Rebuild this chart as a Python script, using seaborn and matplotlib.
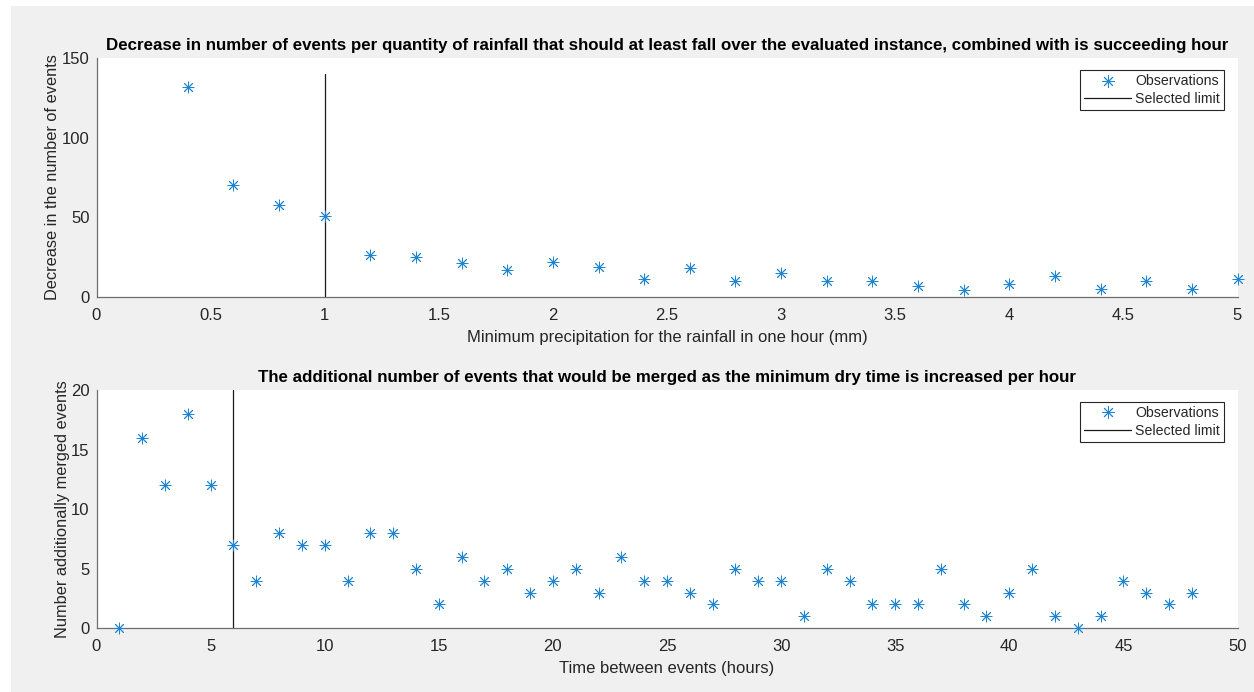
import numpy as np
import pandas as pd
import seaborn as sns
import matplotlib
matplotlib.use("Agg")
import matplotlib.pyplot as plt
from matplotlib.lines import Line2D
from matplotlib.patches import Rectangle
from matplotlib.ticker import FuncFormatter, MultipleLocator

# ---------------- data ----------------
rain_threshold = [0.4, 0.6, 0.8, 1.0, 1.2, 1.4, 1.6, 1.8, 2.0, 2.2, 2.4, 2.6, 2.8,
                  3.0, 3.2, 3.4, 3.6, 3.8, 4.0, 4.2, 4.4, 4.6, 4.8, 5.0]
rain_decrease = [132, 70, 58, 51, 26, 25, 21, 17, 22, 19, 11, 18, 10,
                 15, 10, 10, 7, 4, 8, 13, 5, 10, 5, 11]
rain_limit = 1.0
rain_limit_top = 140

dry_hours = list(range(1, 49))
dry_merged = [0, 16, 12, 18, 12, 7, 4, 8, 7, 7, 4, 8, 8, 5, 2, 6, 4, 5, 3, 4,
              5, 3, 6, 4, 4, 3, 2, 5, 4, 4, 1, 5, 4, 2, 2, 2, 5, 2, 1, 3,
              5, 1, 0, 1, 4, 3, 2, 3]
dry_limit = 6
dry_limit_top = 20

titles = [
    "Decrease in number of events per quantity of rainfall that should at least fall over the evaluated instance, combined with is succeeding hour",
    "The additional number of events that would be merged as the minimum dry time is increased per hour",
]
xlabels = ["Minimum precipitation for the rainfall in one hour (mm)", "Time between events (hours)"]
ylabels = ["Decrease in the number of events", "Number additionally merged events"]
legend_labels = ["Observations", "Selected limit"]

# ---------------- style ----------------
sns.set_theme(style="white")
plt.rcParams['font.family'] = ['Liberation Sans', 'DejaVu Sans']

W, H = 1254, 692
fig = plt.figure(figsize=(W / 100, H / 100), dpi=100, facecolor="white")
fig.patches.append(Rectangle((11 / W, 0), 1 - 11 / W, 1 - 6 / H, transform=fig.transFigure,
                             facecolor="#f0f0f0", edgecolor="none", zorder=-10))

left = 96.5 / W
width = (1237.5 - 96.5) / W
ax1 = fig.add_axes([left, 1 - 296.7 / H, width, (296.7 - 58.3) / H])
ax2 = fig.add_axes([left, 1 - 628.3 / H, width, (628.3 - 390.0) / H])

blue = "#1f85cc"
axcol = "#262626"
ast = (8, 2, 0)

df1 = pd.DataFrame({"x": rain_threshold, "y": rain_decrease})
df2 = pd.DataFrame({"x": dry_hours, "y": dry_merged})

configs = [
    (ax1, df1, rain_limit, rain_limit_top, (0, 5), (0, 150), 0.5, 50),
    (ax2, df2, dry_limit, dry_limit_top, (0, 50), (0, 20), 5, 5),
]

for i, (ax, df, lim, limtop, xl, yl, xstep, ystep) in enumerate(configs):
    ax.set_facecolor("white")
    sns.scatterplot(data=df, x="x", y="y", ax=ax, marker=ast, color=blue,
                    s=62, linewidth=0.65, clip_on=False, zorder=3, legend=False)
    ax.plot([lim, lim], [0, limtop], color="#1a1a1a", linewidth=0.9, zorder=2)
    ax.set_xlim(*xl)
    ax.set_ylim(*yl)
    ax.xaxis.set_major_locator(MultipleLocator(xstep))
    ax.yaxis.set_major_locator(MultipleLocator(ystep))
    ax.xaxis.set_major_formatter(FuncFormatter(lambda v, p: f"{v:g}"))
    ax.yaxis.set_major_formatter(FuncFormatter(lambda v, p: f"{v:g}"))
    for side in ["top", "right"]:
        ax.spines[side].set_visible(False)
    for side in ["left", "bottom"]:
        ax.spines[side].set_color("#6e6e6e")
        ax.spines[side].set_linewidth(0.9)
    ax.tick_params(axis="both", direction="in", length=8, width=0.9, color="#6e6e6e",
                   labelsize=12, labelcolor=axcol, pad=5)
    ax.tick_params(axis="x", pad=8)
    ax.set_title(titles[i], fontsize=12.2, fontweight="bold", color="black", pad=6)
    ax.set_xlabel(xlabels[i], fontsize=12, color=axcol, labelpad=5)
    ax.set_ylabel(ylabels[i], fontsize=11.8, color=axcol, labelpad=1)

    handles = [
        Line2D([], [], marker=ast, linestyle="none", color=blue, markersize=9, markeredgewidth=0.65),
        Line2D([], [], color="#1a1a1a", linewidth=0.9),
    ]
    leg = ax.legend(handles, legend_labels, loc="upper right", bbox_to_anchor=(0.9885, 0.95),
                    fontsize=10.2, frameon=True, fancybox=False, handlelength=3.3,
                    handletextpad=0.3, borderpad=0.3, labelspacing=0.25, borderaxespad=0)
    fr = leg.get_frame()
    fr.set_edgecolor("#262626")
    fr.set_linewidth(0.8)
    fr.set_alpha(1)
    for t in leg.get_texts():
        t.set_color(axcol)

fig.savefig("out.png", dpi=100, facecolor=fig.get_facecolor())
